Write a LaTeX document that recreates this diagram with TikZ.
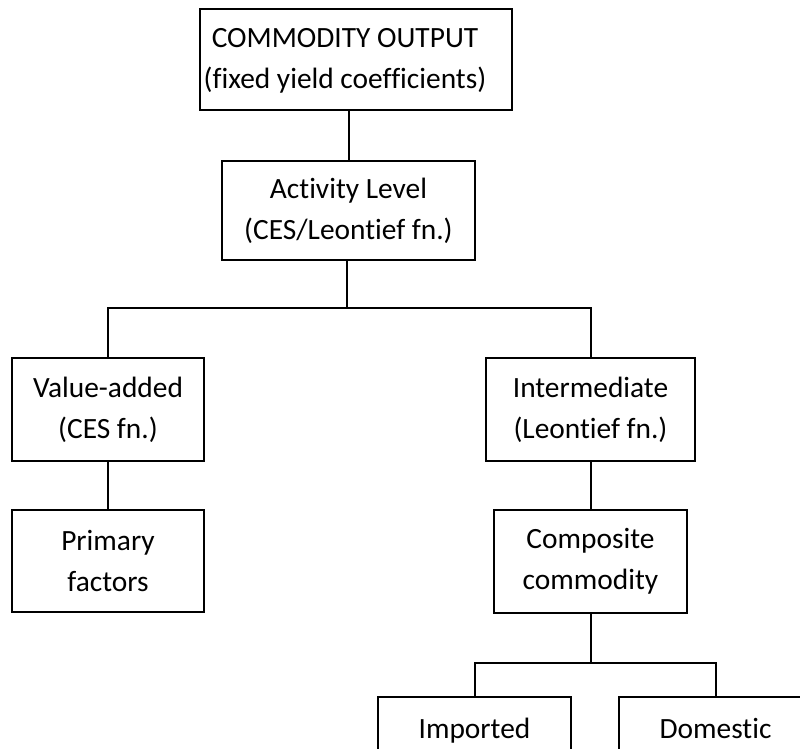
\documentclass[tikz,border=0pt]{standalone}
\usepackage{fontspec}
\setmainfont{Carlito}[Ligatures=NoCommon]
\begin{document}
\begin{tikzpicture}[x=0.5pt,y=-0.5pt,
  box/.style={draw,line width=1.1pt,align=center,inner sep=0pt,
    font=\fontsize{14.7}{20.5}\selectfont},
  link/.style={line width=1pt}]
\useasboundingbox (0,0) rectangle (800,749);
\clip (0,0) rectangle (800,749);
% boxes of the production tree
\node[box,minimum width=156pt,minimum height=50.5pt] (out) at (356,59.5)
  {\begin{tabular}{@{}c@{\hspace{11pt}}}COMMODITY OUTPUT\\(fixed yield coefficients)\end{tabular}};
\node[box,minimum width=126.5pt,minimum height=49.5pt] (act) at (348.5,210.5)
  {Activity Level\\(CES/Leontief fn.)};
\node[box,minimum width=96pt,minimum height=51.5pt] (va) at (108,409.5)
  {Value-added\\(CES fn.)};
\node[box,minimum width=104.5pt,minimum height=51.5pt] (int) at (590.5,409.5)
  {Intermediate\\(Leontief fn.)};
\node[box,minimum width=96pt,minimum height=51pt] (prim) at (108,561)
  {Primary\\factors};
\node[box,minimum width=96.5pt,minimum height=51.5pt] (comp) at (590.5,561.5)
  {Composite\\commodity};
\node[box,minimum width=96.5pt,minimum height=51.5pt] (imp) at (474.5,748.5)
  {Imported\\\phantom{x}};
\node[box,minimum width=96.5pt,minimum height=51.5pt] (dom) at (715.5,748.5)
  {Domestic\\\phantom{x}};
% junction points of the branches
\coordinate (j1) at (347,308);
\coordinate (j2) at (590.5,663);
% connectors
\draw[link] (act.north |- out.south) -- (act.north);
\draw[link] (act.south -| j1) -- (j1);
\draw[link] (va.north) -- (va.north |- j1) -- (int.north |- j1) -- (int.north);
\draw[link] (va.south) -- (prim.north);
\draw[link] (int.south) -- (comp.north);
\draw[link] (comp.south) -- (j2);
\draw[link] (imp.north) -- (imp.north |- j2) -- (dom.north |- j2) -- (dom.north);
\end{tikzpicture}
\end{document}
